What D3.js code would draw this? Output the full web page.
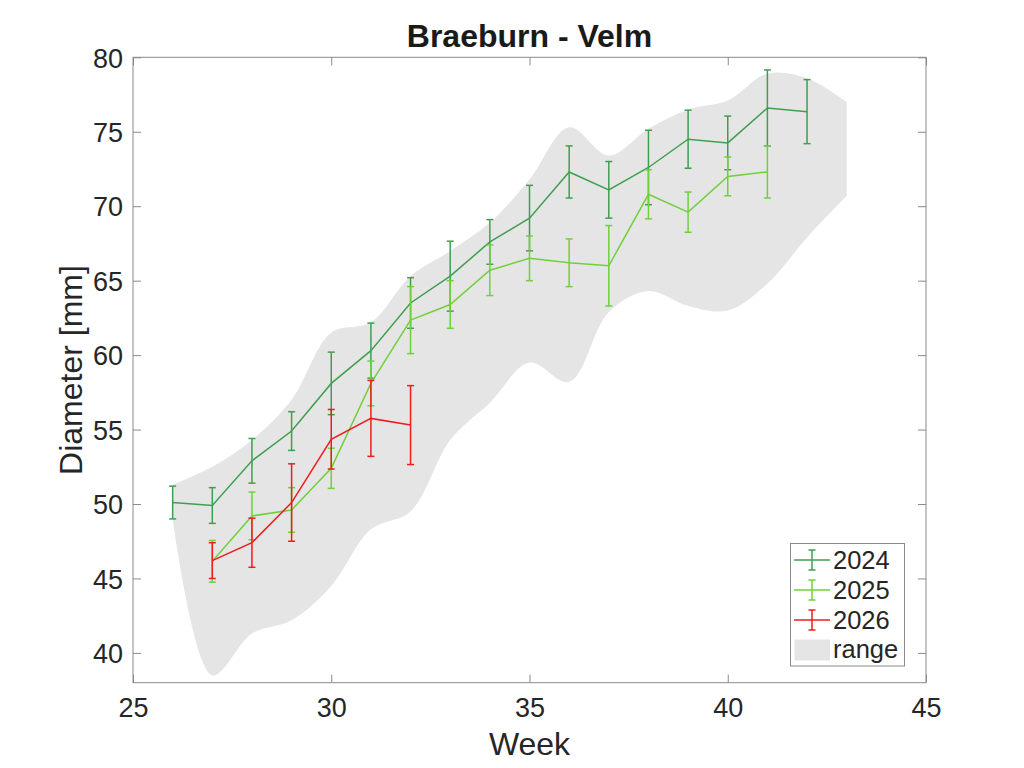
<!DOCTYPE html>
<html>
<head>
<meta charset="utf-8">
<script src="https://cdn.jsdelivr.net/npm/d3@7/dist/d3.min.js"></script>
<style>
  html, body { margin: 0; padding: 0; background: #fff; }
  svg { display: block; }
  text { font-family: "Liberation Sans", Arial, Helvetica, sans-serif; }
</style>
</head>
<body>
<svg id="chart" width="1024" height="768"></svg>
<script>
// ---- data ----
const weeks2024 = [26, 27, 28, 29, 30, 31, 32, 33, 34, 35, 36, 37, 38, 39, 40, 41, 42];
const mean2024  = [50.1, 49.9, 52.9, 54.9, 58.1, 60.3, 63.5, 65.3, 67.6, 69.2, 72.3, 71.1, 72.6, 74.5, 74.25, 76.6, 76.35];
const err2024   = [1.1, 1.2, 1.5, 1.3, 2.1, 1.85, 1.7, 2.35, 1.5, 2.2, 1.75, 1.9, 2.5, 1.95, 1.8, 2.55, 2.15];

const weeks2025 = [27, 28, 29, 30, 31, 32, 33, 34, 35, 36, 37, 38, 39, 40, 41];
const mean2025  = [46.15, 49.2, 49.6, 52.4, 58.1, 62.35, 63.4, 65.7, 66.5, 66.2, 66.0, 70.8, 69.6, 72.0, 72.3];
const err2025   = [1.4, 1.6, 1.5, 1.35, 1.5, 2.25, 1.6, 1.7, 1.5, 1.6, 2.7, 1.65, 1.35, 1.3, 1.75];

const weeks2026 = [27, 28, 29, 30, 31, 32];
const mean2026  = [46.2, 47.4, 50.1, 54.35, 55.75, 55.3];
const err2026   = [1.2, 1.65, 2.6, 2.0, 2.55, 2.65];

const bandWeeks = [26, 27, 28, 29, 30, 31, 32, 33, 34, 35, 36, 37, 38, 39, 40, 41, 42, 43];
const bandUpper = [51.3, 52.5, 54.3, 57.0, 61.5, 62.2, 65.3, 67.0, 68.9, 71.8, 75.3, 73.4, 75.2, 76.5, 77.1, 78.9, 78.6, 77.0];
const bandLower = [49.0, 38.5, 41.3, 42.2, 44.5, 48.3, 49.5, 54.3, 56.8, 59.5, 58.2, 62.9, 64.3, 63.3, 63.0, 64.8, 67.9, 70.7];

const xTicks = [25, 30, 35, 40, 45];
const yTicks = [40, 45, 50, 55, 60, 65, 70, 75, 80];
const seriesNames = ["2024", "2025", "2026"];
const seriesColors = ["#3f9f4f", "#6fd13a", "#ee1c1c"];

// ---- layout ----
const svg = d3.select("#chart");
const L = 133, R = 926, T = 57.3, B = 682.7;
const x = d3.scaleLinear().domain([25, 45]).range([L, R]);
const y = d3.scaleLinear().domain([38, 80]).range([B, T]);
const axisColor = "#8a8a8a";
const textColor = "#262626";

// band
const bandData = bandWeeks.map((w, i) => ({w, lo: bandLower[i], hi: bandUpper[i]}));
svg.append("path")
  .datum(bandData)
  .attr("fill", "#e5e5e5")
  .attr("d", d3.area()
    .x(d => x(d.w)).y0(d => y(d.lo)).y1(d => y(d.hi))
    .curve(d3.curveCatmullRom.alpha(0.5)));

// series
const series = [
  {weeks: weeks2024, mean: mean2024, err: err2024},
  {weeks: weeks2025, mean: mean2025, err: err2025},
  {weeks: weeks2026, mean: mean2026, err: err2026}
];
const cap = 3.5;
series.forEach((s, si) => {
  const col = seriesColors[si];
  const pts = s.weeks.map((w, i) => ({w, m: s.mean[i], e: s.err[i]}));
  const g = svg.append("g");
  g.append("path").datum(pts)
    .attr("fill", "none").attr("stroke", col).attr("stroke-width", 1.5)
    .attr("d", d3.line().x(d => x(d.w)).y(d => y(d.m)));
  const eb = g.selectAll("g.eb").data(pts).enter().append("g")
    .attr("stroke", col).attr("stroke-width", 1.5).attr("fill", "none");
  eb.append("line").attr("x1", d => x(d.w)).attr("x2", d => x(d.w))
    .attr("y1", d => y(d.m - d.e)).attr("y2", d => y(d.m + d.e));
  eb.append("line").attr("x1", d => x(d.w) - cap).attr("x2", d => x(d.w) + cap)
    .attr("y1", d => y(d.m + d.e)).attr("y2", d => y(d.m + d.e));
  eb.append("line").attr("x1", d => x(d.w) - cap).attr("x2", d => x(d.w) + cap)
    .attr("y1", d => y(d.m - d.e)).attr("y2", d => y(d.m - d.e));
});

// axes box + ticks
const tickLen = 8;
svg.append("rect").attr("x", L).attr("y", T).attr("width", R - L).attr("height", B - T)
  .attr("fill", "none").attr("stroke", axisColor).attr("stroke-width", 1);

const axB = svg.append("g").attr("transform", `translate(0,${B})`)
  .call(d3.axisBottom(x).tickValues(xTicks).tickSize(-tickLen).tickPadding(15).tickFormat(d3.format("d")));
const axT = svg.append("g").attr("transform", `translate(0,${T})`)
  .call(d3.axisTop(x).tickValues(xTicks).tickSize(-tickLen).tickFormat(""));
const axL = svg.append("g").attr("transform", `translate(${L},0)`)
  .call(d3.axisLeft(y).tickValues(yTicks).tickSize(-tickLen).tickPadding(10).tickFormat(d3.format("d")));
const axR = svg.append("g").attr("transform", `translate(${R},0)`)
  .call(d3.axisRight(y).tickValues(yTicks).tickSize(-tickLen).tickFormat(""));
[axB, axT, axL, axR].forEach(a => {
  a.select(".domain").remove();
  a.selectAll(".tick line").attr("stroke", axisColor);
  a.selectAll(".tick text").attr("fill", textColor).attr("font-size", 27)
    .attr("font-family", "Liberation Sans, Arial, sans-serif");
});
axB.selectAll(".tick text").attr("dy", "0.71em");
axL.selectAll(".tick text").attr("dy", "0.36em");

// title and labels
svg.append("text").attr("x", (L + R) / 2).attr("y", 47).attr("text-anchor", "middle")
  .attr("font-size", 32).attr("font-weight", "bold").attr("fill", "#1a1a1a").text("Braeburn - Velm");
svg.append("text").attr("x", (L + R) / 2).attr("y", 755).attr("text-anchor", "middle")
  .attr("font-size", 32).attr("fill", textColor).text("Week");
svg.append("text").attr("transform", `translate(82,${(T + B) / 2}) rotate(-90)`).attr("text-anchor", "middle")
  .attr("font-size", 32).attr("fill", textColor).text("Diameter [mm]");

// legend
const lg = svg.append("g");
lg.append("rect").attr("x", 790.5).attr("y", 543.5).attr("width", 114).attr("height", 122.5)
  .attr("fill", "#fff").attr("stroke", axisColor).attr("stroke-width", 1);
const legY = [560, 590, 620];
seriesNames.forEach((nm, i) => {
  const cy = legY[i], col = seriesColors[i];
  const g = lg.append("g").attr("stroke", col).attr("stroke-width", 1.5);
  g.append("line").attr("x1", 794).attr("x2", 830).attr("y1", cy).attr("y2", cy);
  g.append("line").attr("x1", 812).attr("x2", 812).attr("y1", cy - 10).attr("y2", cy + 10);
  g.append("line").attr("x1", 812 - cap).attr("x2", 812 + cap).attr("y1", cy - 10).attr("y2", cy - 10);
  g.append("line").attr("x1", 812 - cap).attr("x2", 812 + cap).attr("y1", cy + 10).attr("y2", cy + 10);
  lg.append("text").attr("x", 833).attr("y", cy + 9).attr("font-size", 25.5).attr("fill", textColor).text(nm);
});
lg.append("rect").attr("x", 794.5).attr("y", 639.5).attr("width", 35.5).attr("height", 21).attr("fill", "#e5e5e5");
lg.append("text").attr("x", 833).attr("y", 658).attr("font-size", 25.5).attr("fill", textColor).text("range");
</script>
</body>
</html>
